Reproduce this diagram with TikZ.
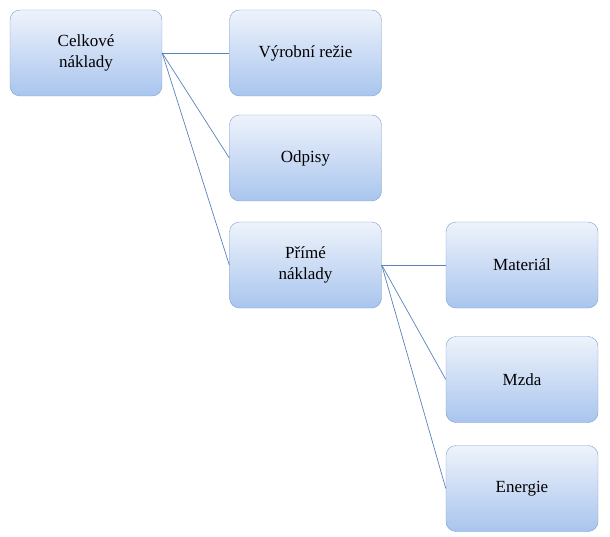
\documentclass[tikz,border=0pt]{standalone}
\usepackage{fontspec}
\setmainfont{Liberation Serif}
\usepackage{tikz}
\definecolor{boxtop}{HTML}{EEF3FB}
\definecolor{boxbot}{HTML}{A9C5EE}
\definecolor{boxline}{HTML}{7F9FCF}
\definecolor{linkline}{HTML}{5B82B8}

\begin{document}
\begin{tikzpicture}[x=1pt, y=-1pt, font=\fontsize{17}{21}\selectfont]
	\useasboundingbox (0,0) rectangle (610,537);
	% Define styles
	\tikzstyle{costbox}=[rectangle, rounded corners=10pt, draw=boxline, top color=boxtop, bottom color=boxbot, minimum width=152pt, minimum height=86pt, align=center]
	\tikzstyle{link}=[draw=linkline, line width=0.7pt]

	\node[costbox] (celk) at (86,53) {Celkové\\náklady};
	\node[costbox] (rezie) at (305.5,53) {Výrobní režie};
	\node[costbox] (odp) at (305.5,158) {Odpisy};
	\node[costbox] (prime) at (305.5,265) {Přímé\\náklady};
	\node[costbox] (mat) at (522,265) {Materiál};
	\node[costbox] (mzda) at (522,379.5) {Mzda};
	\node[costbox] (ener) at (522,488.5) {Energie};

	\draw[link] (celk.east) -- (rezie.west);
	\draw[link] (celk.east) -- (odp.west);
	\draw[link] (celk.east) -- (prime.west);
	\draw[link] (prime.east) -- (mat.west);
	\draw[link] (prime.east) -- (mzda.west);
	\draw[link] (prime.east) -- (ener.west);
\end{tikzpicture}
\end{document}
